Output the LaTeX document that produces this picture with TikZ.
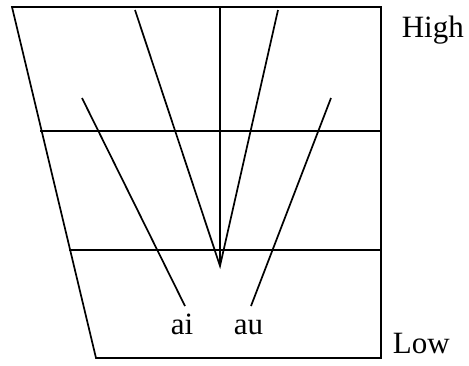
\documentclass[tikz,border=0pt]{standalone}
\usepackage{fontspec}
\setmainfont{Liberation Serif}
\begin{document}
\begin{tikzpicture}[x=1pt,y=-1pt,line width=1.7pt,
  lbl/.style={font=\fontsize{31}{36}\selectfont,inner sep=0pt}]
\useasboundingbox (0,0) rectangle (469,365);
\coordinate (tl) at (12,7);
\coordinate (tr) at (381,7);
\coordinate (br) at (381,358);
\coordinate (bl) at (96,358);
\draw[line join=miter] (tl) -- (tr) -- (br) -- (bl) -- cycle;
\coordinate (h1l) at (40,131);
\coordinate (h1r) at (381,131);
\coordinate (h2l) at (69,250);
\coordinate (h2r) at (381,250);
\draw (h1l) -- (h1r);
\draw (h2l) -- (h2r);
\coordinate (apex) at (220,266);
\coordinate (vt) at (220,7);
\coordinate (lt) at (135,10);
\coordinate (rt) at (278,10);
\draw (vt) -- (apex);
\draw (lt) -- (apex) -- (rt);
\coordinate (ai0) at (82,98);
\coordinate (ai1) at (185,306);
\coordinate (au0) at (331,98);
\coordinate (au1) at (251,306);
\draw (ai0) -- (ai1);
\draw (au0) -- (au1);
\node[lbl,anchor=base west] (ai) at (170,334) {ai};
\node[lbl,anchor=base west] (au) at (233,334) {au};
\node[lbl,anchor=base west] (high) at (401,37) {High};
\node[lbl,anchor=base west] (low) at (392,353) {Low};
\end{tikzpicture}
\end{document}
